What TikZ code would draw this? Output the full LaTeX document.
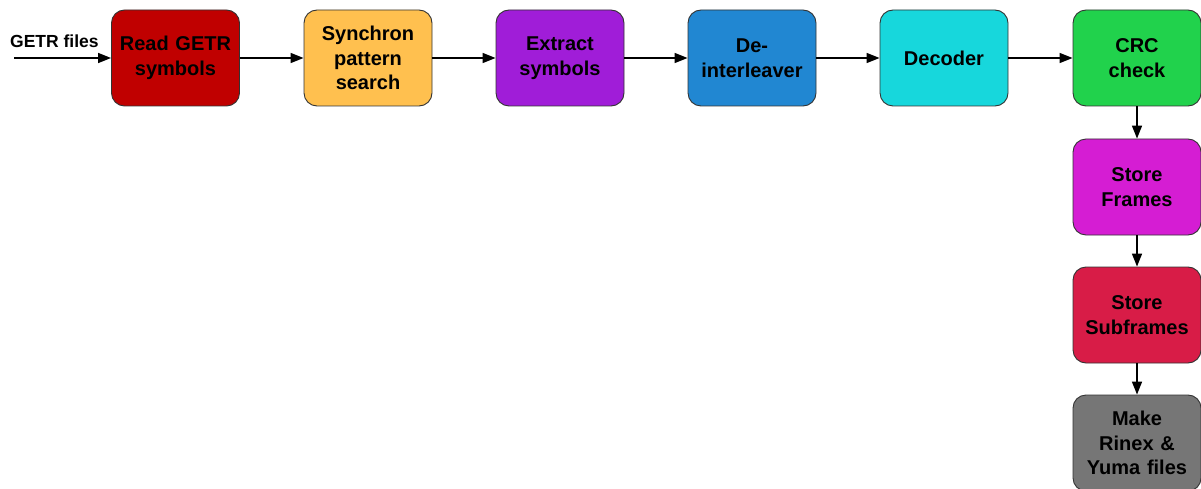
\documentclass[tikz,border=0pt]{standalone}
\usepackage{fontspec}
\setmainfont{Liberation Sans}
\usetikzlibrary{arrows.meta}
\definecolor{cRead}{HTML}{C00000}
\definecolor{cSync}{HTML}{FFC04F}
\definecolor{cExtr}{HTML}{A01DD8}
\definecolor{cDeint}{HTML}{2187D2}
\definecolor{cDec}{HTML}{17D7DC}
\definecolor{cCRC}{HTML}{21D24C}
\definecolor{cSF}{HTML}{D51DD3}
\definecolor{cSSF}{HTML}{D81C47}
\definecolor{cMake}{HTML}{767676}
\definecolor{cBorder}{HTML}{333333}
\tikzset{
  block/.style={draw=cBorder, line width=0.9pt, rounded corners=13pt,
    minimum width=128pt, minimum height=96pt, inner sep=0pt,
    align=center, font=\fontsize{20}{24.5}\selectfont\bfseries, text width=126pt},
  conn/.style={-{Triangle[length=13pt,width=10pt]}, line width=1.6pt}
}
\begin{document}
\begin{tikzpicture}[x=1pt,y=-1pt]
\useasboundingbox (0,0) rectangle (1201,489);
\begin{scope}
\clip (0,0) rectangle (1201,489);
\node[block, fill=cRead]  (read)  at (175.5,58) {Read GETR\\symbols};
\node[block, fill=cSync]  (sync)  at (368,58) {Synchron\\pattern\\search};
\node[block, fill=cExtr]  (extr)  at (560,58) {Extract\\symbols};
\node[block, fill=cDeint] (deint) at (752,58) {De-\\interleaver};
\node[block, fill=cDec]   (dec)   at (944,58) {Decoder};
\node[block, fill=cCRC]   (crc)   at (1137,58) {CRC\\check};
\node[block, fill=cSF]    (sf)    at (1137,187) {Store\\Frames};
\node[block, fill=cSSF]   (ssf)   at (1137,315) {Store\\Subframes};
\node[block, fill=cMake]  (make)  at (1137,443) {Make\\Rinex \&\\Yuma files};
\coordinate (in) at (14,58);
\node[font=\fontsize{17.5}{19}\selectfont\bfseries, anchor=base west, inner sep=0pt] (lbl) at (10,47.5) {GETR files};
\draw[conn] (in) -- (read);
\draw[conn] (read) -- (sync);
\draw[conn] (sync) -- (extr);
\draw[conn] (extr) -- (deint);
\draw[conn] (deint) -- (dec);
\draw[conn] (dec) -- (crc);
\draw[conn] (crc) -- (sf);
\draw[conn] (sf) -- (ssf);
\draw[conn] (ssf) -- (make);
\end{scope}
\end{tikzpicture}
\end{document}
